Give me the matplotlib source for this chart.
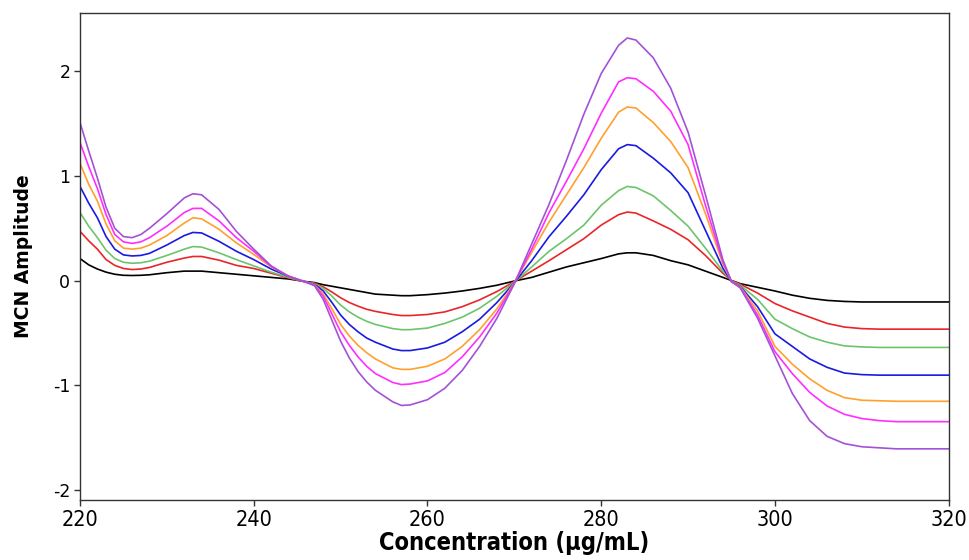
import matplotlib
matplotlib.use("Agg")
import matplotlib.pyplot as plt
from matplotlib import font_manager

x = [220,221,222,223,224,225,226,227,228,230,232,233,234,236,238,240,242,244,246,247,
     248,249,250,251,252,253,254,256,257,258,260,262,264,266,268,270,272,274,276,278,
     280,282,283,284,286,288,290,292,294,295,296,298,300,302,304,306,308,310,312,314,
     316,318,320]

black = [0.21,0.15,0.11,0.08,0.06,0.05,0.048,0.05,0.055,0.075,0.09,0.09,0.09,0.075,0.06,0.045,0.03,0.015,-0.01,-0.02,
         -0.04,-0.055,-0.07,-0.085,-0.10,-0.115,-0.13,-0.14,-0.145,-0.145,-0.135,-0.12,-0.10,-0.075,-0.045,-0.005,0.03,0.08,0.13,0.17,
         0.21,0.255,0.265,0.265,0.24,0.19,0.15,0.09,0.03,0.0,-0.03,-0.065,-0.10,-0.14,-0.17,-0.19,-0.20,-0.205,-0.205,-0.205,
         -0.205,-0.205,-0.205]

red = [0.47,0.38,0.30,0.20,0.145,0.115,0.105,0.11,0.125,0.175,0.215,0.23,0.23,0.195,0.145,0.115,0.07,0.025,-0.015,-0.025,
       -0.06,-0.11,-0.165,-0.21,-0.245,-0.275,-0.295,-0.325,-0.335,-0.335,-0.325,-0.30,-0.25,-0.185,-0.105,-0.01,0.09,0.19,0.295,0.40,
       0.53,0.63,0.655,0.645,0.57,0.49,0.39,0.24,0.07,0.0,-0.035,-0.12,-0.22,-0.29,-0.35,-0.41,-0.445,-0.46,-0.465,-0.465,
       -0.465,-0.465,-0.465]

green = [0.65,0.52,0.41,0.29,0.21,0.175,0.165,0.17,0.185,0.24,0.30,0.325,0.32,0.265,0.20,0.14,0.08,0.03,-0.015,-0.03,
         -0.075,-0.15,-0.235,-0.30,-0.35,-0.39,-0.42,-0.46,-0.47,-0.47,-0.455,-0.41,-0.35,-0.265,-0.15,-0.015,0.13,0.28,0.40,0.53,
         0.72,0.86,0.90,0.89,0.81,0.67,0.52,0.31,0.09,-0.005,-0.045,-0.18,-0.37,-0.46,-0.54,-0.59,-0.625,-0.635,-0.64,-0.64,
         -0.64,-0.64,-0.64]

blue = [0.90,0.74,0.60,0.42,0.30,0.245,0.235,0.24,0.26,0.34,0.43,0.46,0.455,0.375,0.28,0.20,0.11,0.04,-0.015,-0.035,
        -0.10,-0.21,-0.33,-0.42,-0.49,-0.55,-0.59,-0.655,-0.67,-0.67,-0.645,-0.59,-0.49,-0.37,-0.21,-0.02,0.19,0.42,0.615,0.82,
        1.06,1.26,1.30,1.29,1.17,1.03,0.84,0.48,0.12,-0.01,-0.055,-0.25,-0.51,-0.63,-0.75,-0.83,-0.885,-0.90,-0.905,-0.905,
        -0.905,-0.905,-0.905]

orange = [1.12,0.92,0.76,0.54,0.38,0.31,0.30,0.31,0.34,0.43,0.55,0.60,0.59,0.49,0.36,0.25,0.13,0.045,-0.015,-0.04,
          -0.13,-0.27,-0.42,-0.53,-0.62,-0.69,-0.75,-0.835,-0.85,-0.85,-0.82,-0.75,-0.63,-0.47,-0.27,-0.02,0.27,0.56,0.82,1.08,
          1.36,1.61,1.66,1.65,1.51,1.33,1.08,0.64,0.16,-0.01,-0.06,-0.29,-0.63,-0.80,-0.94,-1.05,-1.12,-1.145,-1.15,-1.155,
          -1.155,-1.155,-1.155]

magenta = [1.32,1.09,0.88,0.63,0.44,0.37,0.355,0.37,0.41,0.52,0.65,0.69,0.69,0.57,0.41,0.28,0.135,0.04,-0.015,-0.045,
           -0.15,-0.32,-0.49,-0.62,-0.73,-0.82,-0.89,-0.975,-0.995,-0.99,-0.96,-0.88,-0.73,-0.54,-0.31,-0.025,0.30,0.65,0.95,1.26,
           1.60,1.90,1.94,1.93,1.81,1.62,1.30,0.72,0.18,-0.01,-0.065,-0.33,-0.68,-0.89,-1.07,-1.20,-1.28,-1.32,-1.34,-1.35,
           -1.35,-1.35,-1.35]

purple = [1.51,1.24,0.98,0.70,0.50,0.42,0.41,0.44,0.50,0.64,0.79,0.83,0.82,0.68,0.47,0.30,0.14,0.04,-0.015,-0.05,
          -0.18,-0.38,-0.58,-0.74,-0.87,-0.97,-1.05,-1.16,-1.195,-1.19,-1.14,-1.03,-0.86,-0.63,-0.36,-0.03,0.35,0.73,1.15,1.59,
          1.98,2.25,2.32,2.30,2.13,1.84,1.42,0.82,0.20,-0.01,-0.07,-0.36,-0.72,-1.08,-1.34,-1.49,-1.56,-1.59,-1.60,-1.61,
          -1.61,-1.61,-1.61]

series = [black, red, green, blue, orange, magenta, purple]
colors = ["#000000", "#e8262a", "#6cc46c", "#1a1ae0", "#ffa02e", "#ff2eff", "#a352d6"]

x_ticks = [220, 240, 260, 280, 300, 320]
y_ticks = [-2, -1, 0, 1, 2]

# pick a narrow family for the x axis texts if one is installed
installed = {f.name for f in font_manager.fontManager.ttflist}
narrow = [n for n in ["Liberation Sans Narrow", "DejaVu Sans Condensed"] if n in installed]
narrow_family = narrow + ["DejaVu Sans"]

fig = plt.figure(figsize=(9.7, 5.6), dpi=100)
ax = fig.add_axes([0.0825, 0.107, 0.8955, 0.870])

for ys, c in zip(series, colors):
    ax.plot(x, ys, color=c, linewidth=1.2)

ax.set_xlim(220, 320)
ax.set_ylim(-2.10, 2.56)
ax.set_xticks(x_ticks)
ax.set_yticks(y_ticks)
ax.set_yticklabels([str(v) for v in y_ticks], fontsize=12.5, family=["DejaVu Sans"])
ax.set_xticklabels([str(v) for v in x_ticks], fontsize=15.5, family=narrow_family,
                   fontstretch="condensed")
ax.tick_params(axis="both", direction="out", length=4, width=1, color="#333333", pad=3)
for s in ax.spines.values():
    s.set_color("#333333")
    s.set_linewidth(1.0)

ax.set_xlabel("Concentration (µg/mL)", fontsize=17, fontweight="bold",
              family=narrow_family, fontstretch="condensed", labelpad=1)
ax.set_ylabel("MCN Amplitude", fontsize=13.5, fontweight="bold",
              family=["DejaVu Sans"], labelpad=14)

fig.savefig("out.png", dpi=100, facecolor="white")
